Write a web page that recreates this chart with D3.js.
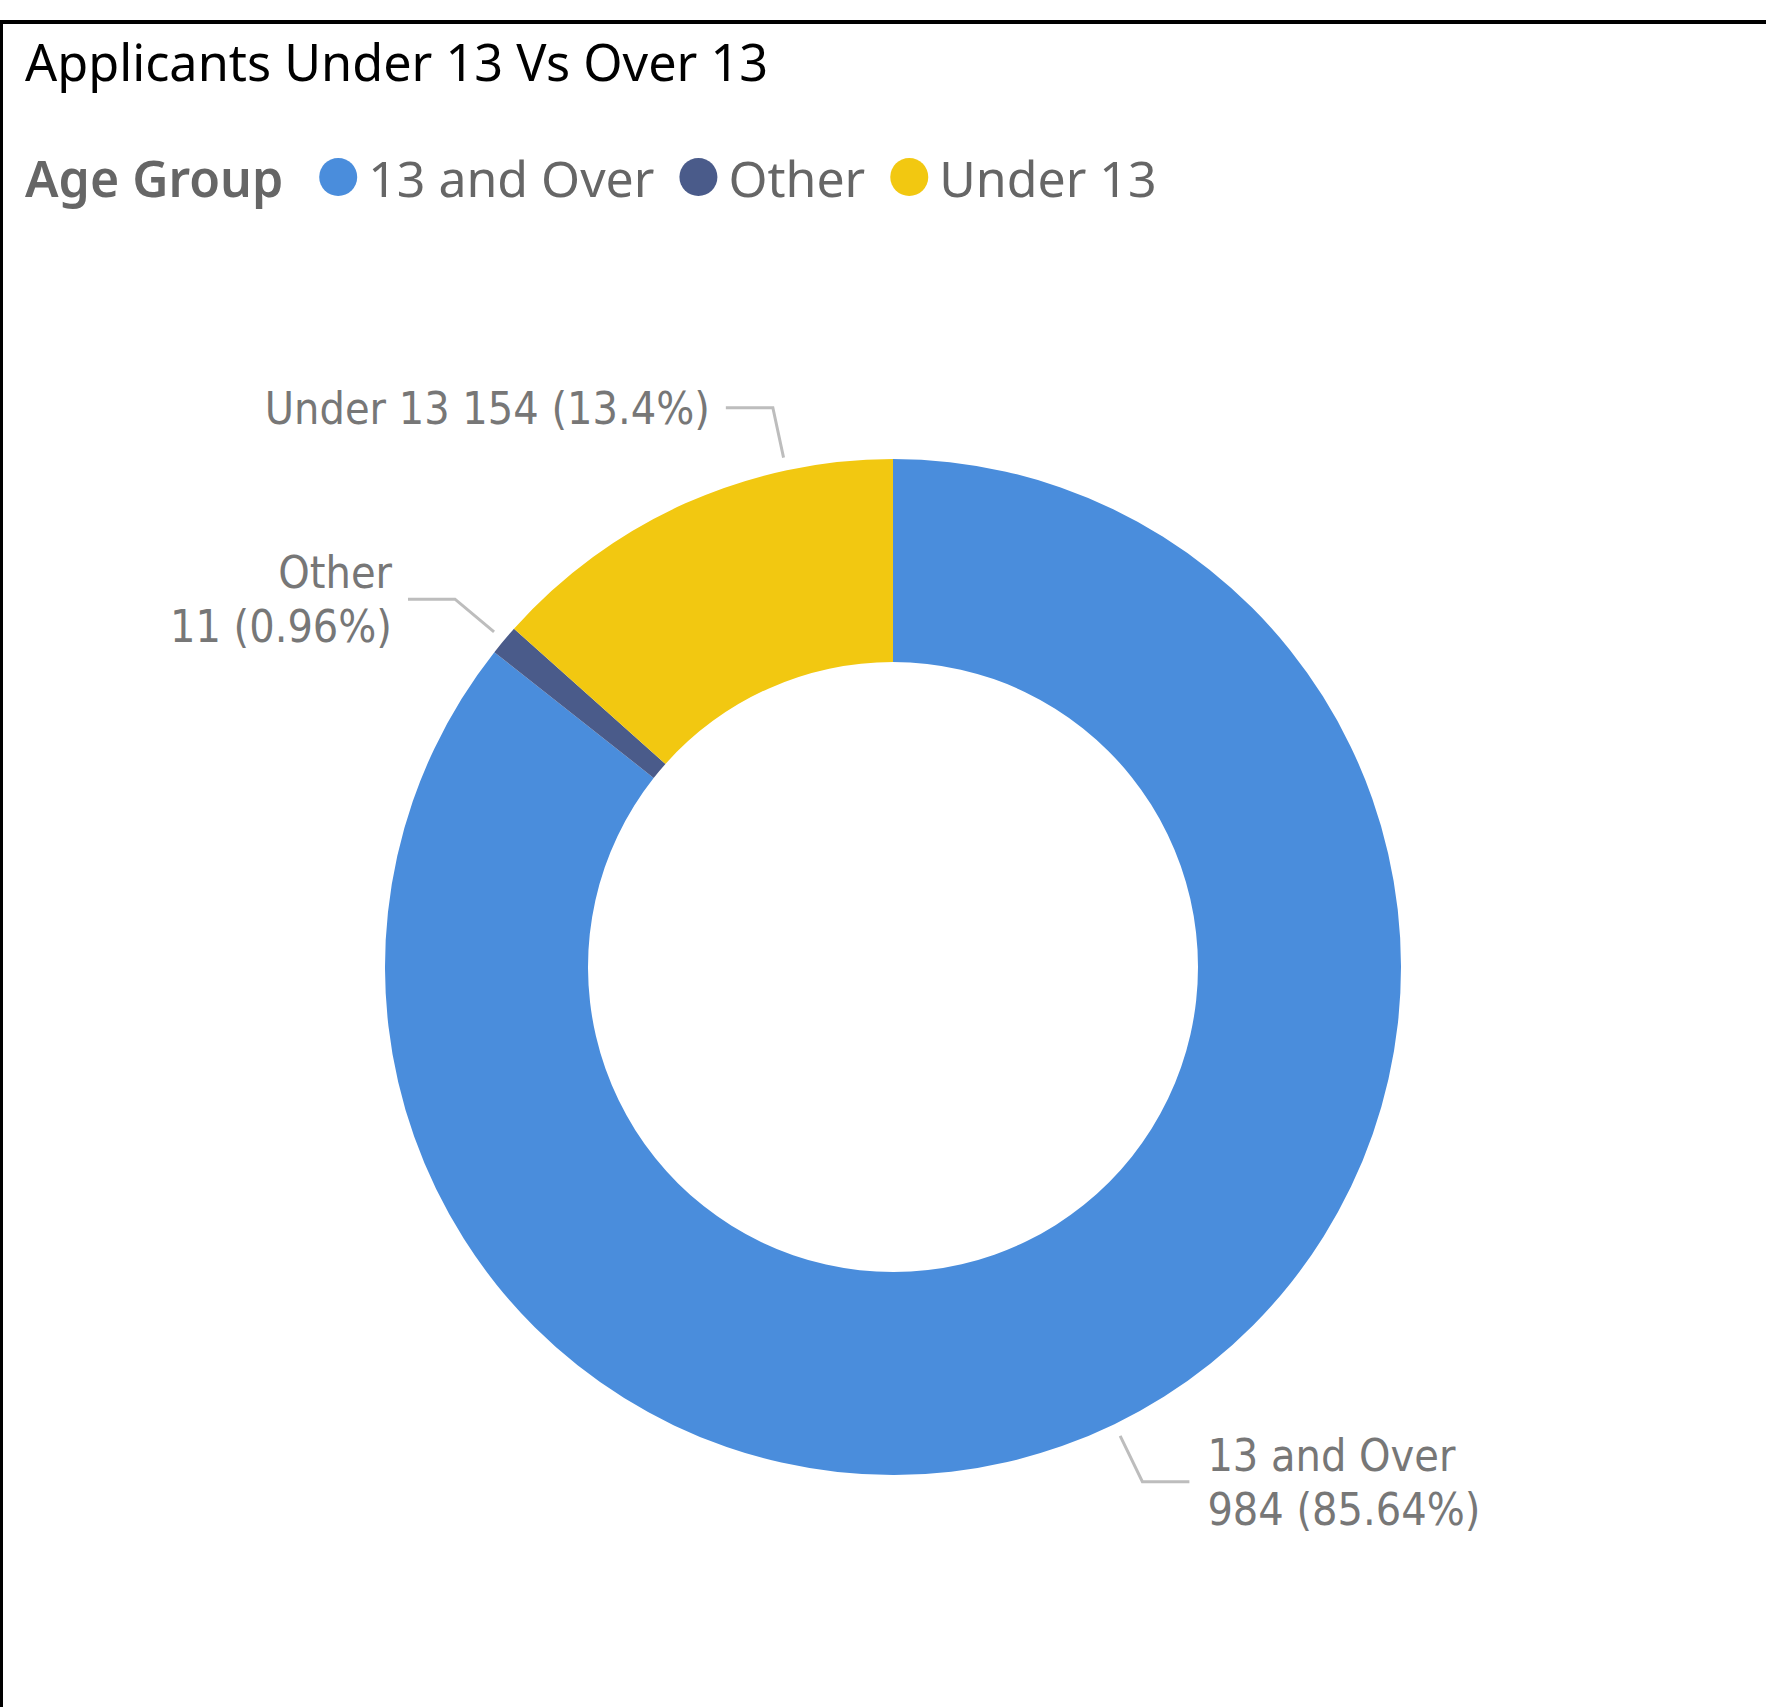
<!DOCTYPE html>
<html>
<head>
<meta charset="utf-8">
<script src="https://cdn.jsdelivr.net/npm/d3@7"></script>
<style>
    html, body {margin:0; padding:0; background:#fff;}
</style>
</head>
<body>
<div id="chart"></div>
<script>

var categories = ["13 and Over", "Other", "Under 13"];
var values = [984, 11, 154];
var colors = ["#4A8DDC", "#4A5B8A", "#F2C811"];
// extra rotation (degrees) applied to a label's leader line, as the source nudged "Under 13"
var labelNudge = [0, 0, 12];

var chartTitle = "Applicants Under 13 Vs Over 13";
var legendTitle = "Age Group";


var width = 1766,
    height = 1707;

var cx = 893,
    cy = 967,
    rOuter = 508,
    rInner = 305;

var total = d3.sum(values);

var data = categories.map((c,i)=>({name:c, value:values[i], color:colors[i], nudge:labelNudge[i]}));

function pctText(v){
    var p = v/total*100;
    var s = (Math.round(p*100)/100).toString();
    return s+"%";
}


//-MAIN--------------------------------------------------------------------//
var svg = d3.select("#chart").append("svg")
    .attr("width", width)
    .attr("height", height)
    .attr("viewBox", "0,0,"+width+","+height)
    ;

// frame (top + left edges only are visible)
svg.append("line")
    .attr("x1", 0).attr("x2", width)
    .attr("y1", 22).attr("y2", 22)
    .attr("stroke", "#000")
    .attr("stroke-width", 4)
    ;
svg.append("line")
    .attr("x1", 1.5).attr("x2", 1.5)
    .attr("y1", 20).attr("y2", height)
    .attr("stroke", "#000")
    .attr("stroke-width", 3)
    ;

svg.append("text")
    .attr("x", 25)
    .attr("y", 81)
    .attr("font-family", "'Noto Sans', 'Open Sans', sans-serif")
    .attr("font-size", 50.4)
    .attr("fill", "#000")
    .text(chartTitle)
    ;

// legend
var legend = svg.append("g")
    .attr("class", "legend")
    .attr("transform", "translate(25,197)")
    ;
var lgTitle = legend.append("text")
    .attr("x", 0)
    .attr("y", 0)
    .attr("font-family", "'Noto Sans', 'Open Sans', sans-serif")
    .attr("font-weight", 600)
    .attr("font-size", 50)
    .attr("fill", "#666")
    .text(legendTitle)
    ;
var lx = lgTitle.node().getComputedTextLength() + 36;
data.forEach((d,i)=>{
    legend.append("circle")
        .attr("cx", lx+19)
        .attr("cy", -20)
        .attr("r", 19)
        .attr("fill", d.color)
        ;
    var t = legend.append("text")
        .attr("x", lx+49)
        .attr("y", 0)
        .attr("font-family", "'Noto Sans', 'Open Sans', sans-serif")
        .attr("font-size", 50)
        .attr("fill", "#666")
        .text(d.name)
        ;
    lx = lx + 49 + t.node().getComputedTextLength() + 25;
});


// donut
var pie = d3.pie()
    .sort(null)
    .value(d=>d.value)
    ;
var arc = d3.arc()
    .innerRadius(rInner)
    .outerRadius(rOuter)
    ;

var g = svg.append("g")
    .attr("transform", `translate(${cx},${cy})`)
    ;

var arcs = pie(data);

g.selectAll("path.slice").data(arcs)
    .enter().append("path")
    .attr("class", "slice")
    .attr("d", arc)
    .attr("fill", d=>d.data.color)
    ;

// labels with leader lines
var r1 = rOuter + 13,
    r2 = rOuter + 64,
    hLen = 47,
    gap = 16,
    lineH = 54;

arcs.forEach((a,i)=>{
    var ang = (a.startAngle + a.endAngle)/2 + a.data.nudge*Math.PI/180;
    var sx = r1*Math.sin(ang), sy = -r1*Math.cos(ang);
    var ex = r2*Math.sin(ang), ey = -r2*Math.cos(ang);
    var right = Math.sin(ang) > 0;
    var hx = ex + (right ? hLen : -hLen);
    g.append("polyline")
        .attr("points", [[sx,sy],[ex,ey],[hx,ey]].map(p=>p.join(",")).join(" "))
        .attr("fill", "none")
        .attr("stroke", "#BDBDBD")
        .attr("stroke-width", 3)
        ;
    var lines;
    if (a.data.name === "Under 13"){
        lines = [a.data.name+" "+a.data.value+" ("+pctText(a.data.value)+")"];
    } else {
        lines = [a.data.name, a.data.value+" ("+pctText(a.data.value)+")"];
    }
    var tx = hx + (right ? gap+2 : -gap);
    var y0 = ey - (lines.length-1)*lineH/2 + 16;
    var txt = g.append("text")
        .attr("text-anchor", right ? "start" : "end")
        .attr("font-family", "'Liberation Sans Narrow', 'DejaVu Sans Condensed', sans-serif")
        .attr("font-size", 44.5)
        .attr("fill", "#777")
        ;
    lines.forEach((l,j)=>{
        txt.append("tspan")
            .attr("x", tx)
            .attr("y", y0 + j*lineH)
            .text(l)
            ;
    });
});

</script>
</body>
</html>
